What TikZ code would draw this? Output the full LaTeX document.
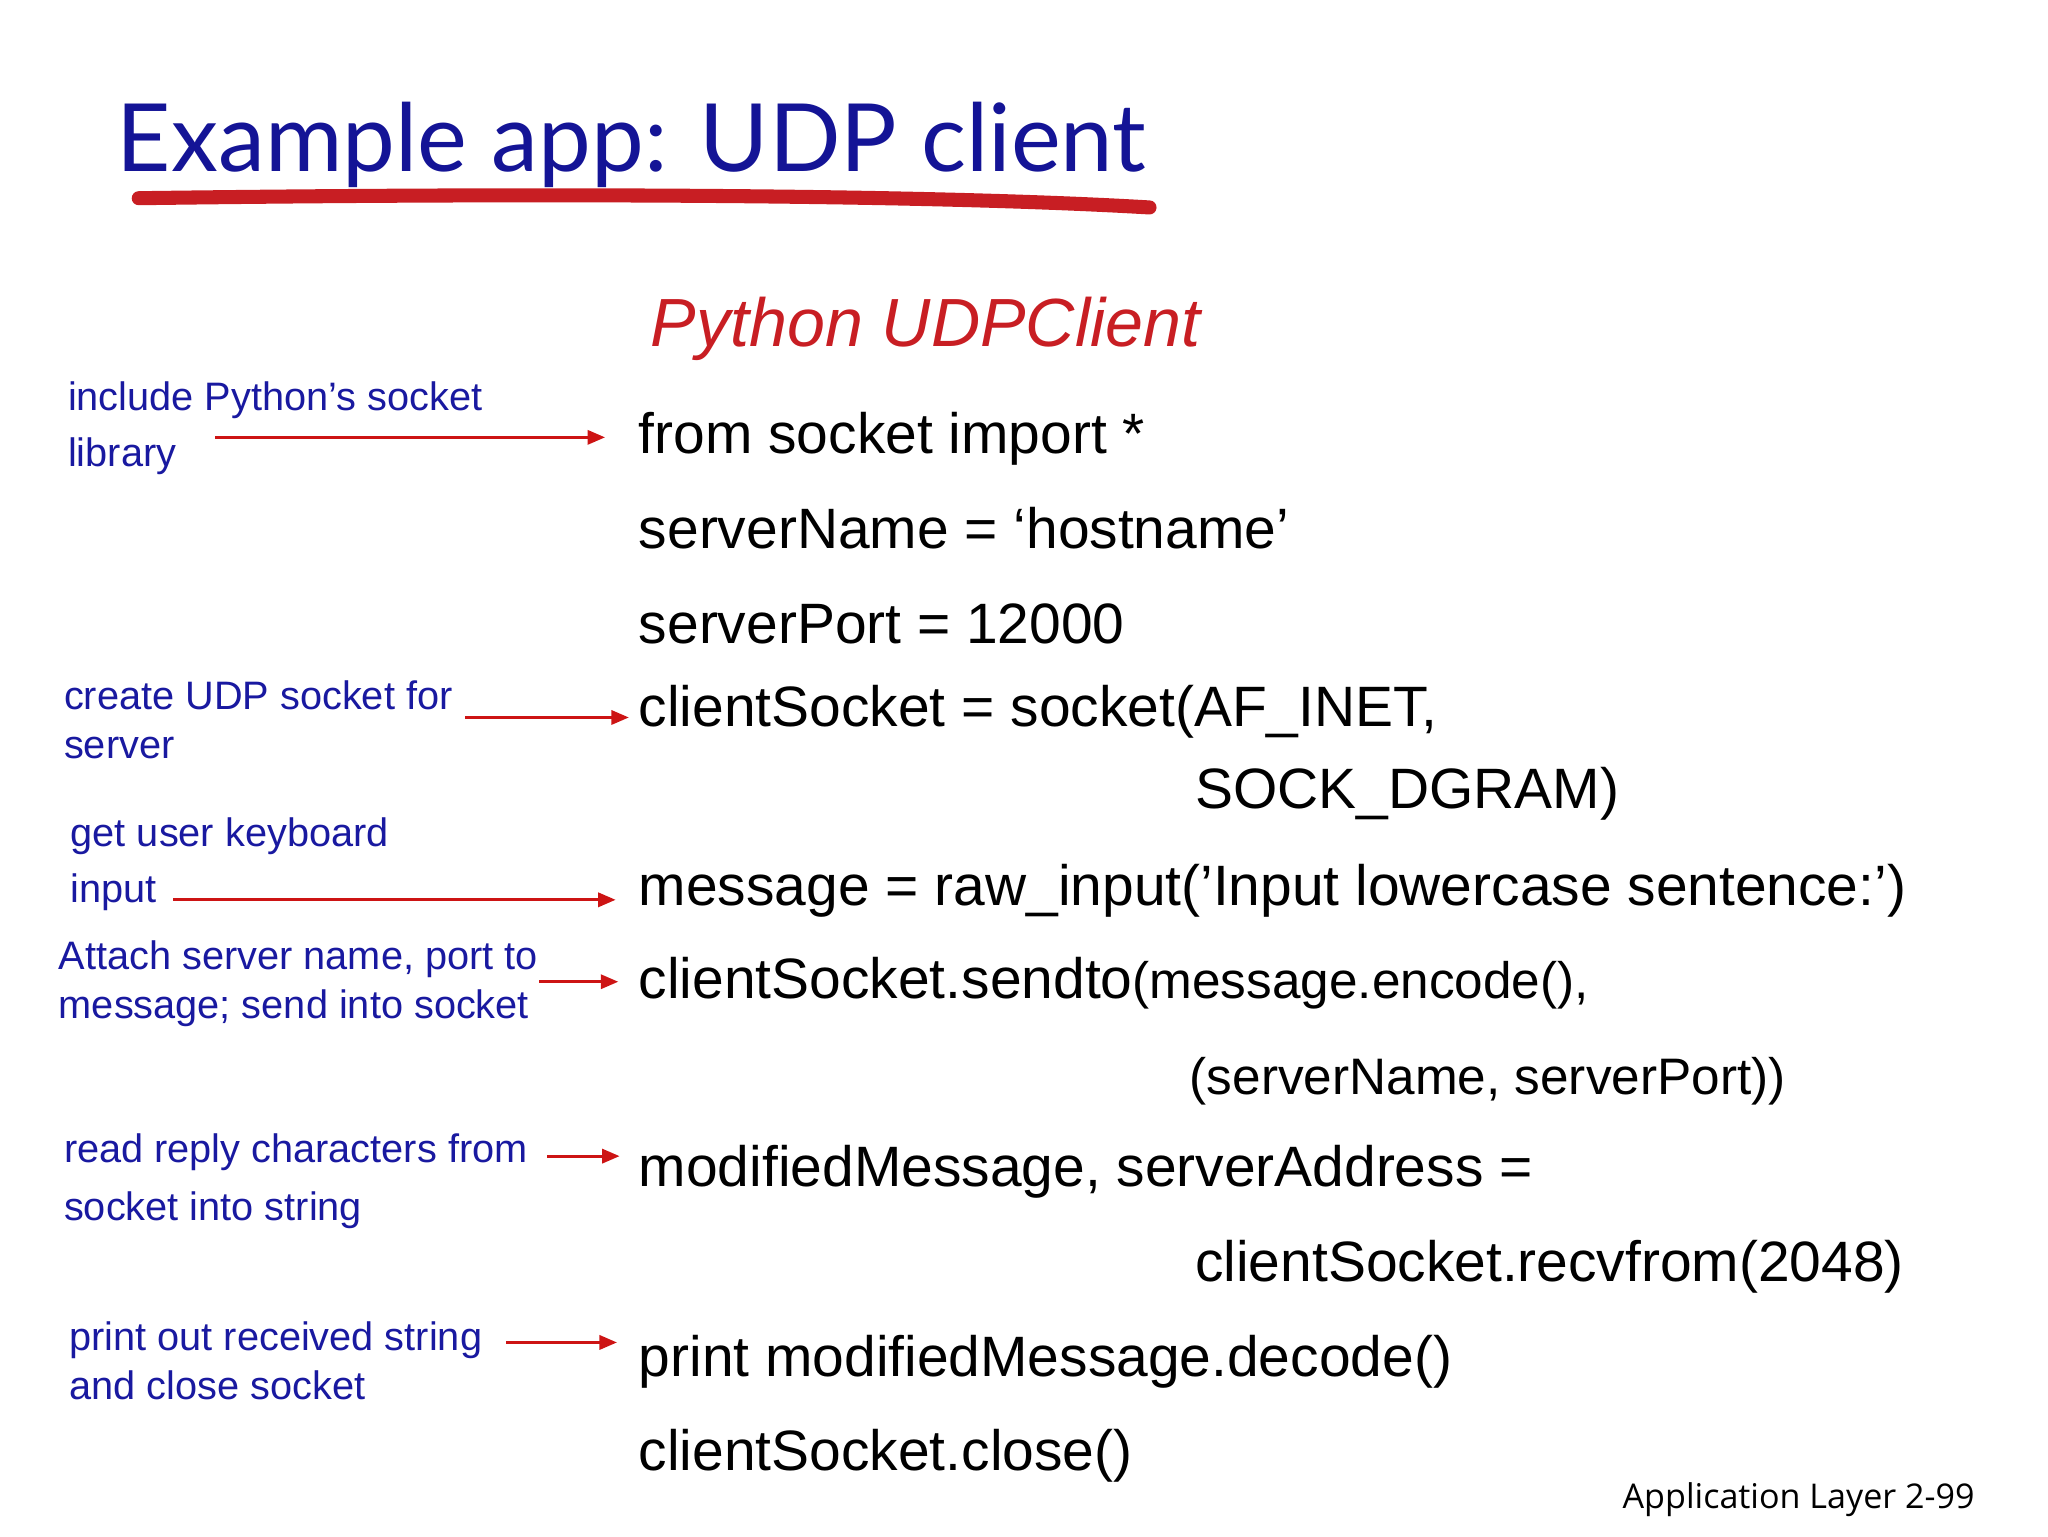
\documentclass[tikz,border=0pt]{standalone}
\usepackage{fontspec}
\setmainfont{Liberation Sans}
\newfontfamily\titlefont{Lato}
\newfontfamily\footfont{Open Sans}
\usetikzlibrary{arrows.meta}
\definecolor{navy}{RGB}{20,20,150}
\definecolor{ann}{RGB}{25,25,160}
\definecolor{ured}{RGB}{200,30,35}
\definecolor{ared}{RGB}{205,20,20}
\begin{document}
\begin{tikzpicture}[x=0.01321cm,y=-0.01321cm,
  code/.style={anchor=base west,inner sep=0,font=\fontsize{16.2}{18}\selectfont},
  note/.style={anchor=base west,inner sep=0,text=ann,font=\fontsize{11.3}{13}\selectfont},
  arr/.style={draw=ared,line width=0.9pt,-{Triangle[length=5pt,width=4pt]}}]
\useasboundingbox (0,0) rectangle (1550,1163);
\node[anchor=base west,inner sep=0,text=navy,font=\titlefont\fontsize{26.8}{30}\selectfont] (title) at (88,130) {Example app: UDP client};
\draw[ured,line width=4pt,line cap=round] (105,150) .. controls (400,146) and (700,147) .. (870,157);
\node[anchor=base west,inner sep=0,text=ured,font=\fontsize{19.4}{22}\selectfont\itshape] (sub) at (492,262) {Python UDPClient};
\node[code] (c1) at (483,343) {from socket import *};
\node[code] (c2) at (483,415) {serverName = ‘hostname’};
\node[code] (c3) at (483,487) {serverPort = 12000};
\node[code] (c4) at (483,550) {clientSocket = socket(AF\_INET,};
\node[code] (c4b) at (904,612) {SOCK\_DGRAM)};
\node[code] (c5) at (483,685) {message = raw\_input(’Input lowercase sentence:’)};
\node[code] (c6) at (483,756) {clientSocket.sendto{\fontsize{14.6}{16}\selectfont(message.encode(),}};
\node[code,font=\fontsize{14.6}{16}\selectfont] (c6b) at (900,828) {(serverName, serverPort))};
\node[code] (c7) at (483,898) {modifiedMessage, serverAddress =};
\node[code] (c7b) at (904,970) {clientSocket.recvfrom(2048)};
\node[code] (c8) at (483,1042) {print modifiedMessage.decode()};
\node[code] (c9) at (483,1113) {clientSocket.close()};
\node[note] (n1a) at (51,311) {include Python’s socket};
\node[note] (n1b) at (51,353) {library};
\node[note] (n2a) at (48,537) {create UDP socket for};
\node[note] (n2b) at (48,574) {server};
\node[note] (n3a) at (53,641) {get user keyboard};
\node[note] (n3b) at (53,683) {input};
\node[note] (n4a) at (44,734) {Attach server name, port to};
\node[note] (n4b) at (44,771) {message; send into socket};
\node[note] (n5a) at (48,880) {read reply characters from};
\node[note] (n5b) at (48,924) {socket into string};
\node[note] (n6a) at (52,1022) {print out received string};
\node[note] (n6b) at (52,1059) {and close socket};
\coordinate (a1s) at (163,331); \coordinate (a1e) at (458,331);
\coordinate (a2s) at (352,543); \coordinate (a2e) at (476,543);
\coordinate (a3s) at (131,681); \coordinate (a3e) at (466,681);
\coordinate (a4s) at (408,743); \coordinate (a4e) at (468,743);
\coordinate (a5s) at (414,875); \coordinate (a5e) at (469,875);
\coordinate (a6s) at (383,1016); \coordinate (a6e) at (467,1016);
\draw[arr] (a1s) -- (a1e);
\draw[arr] (a2s) -- (a2e);
\draw[arr] (a3s) -- (a3e);
\draw[arr] (a4s) -- (a4e);
\draw[arr] (a5s) -- (a5e);
\draw[arr] (a6s) -- (a6e);
\node[anchor=base east,inner sep=0,font=\footfont\fontsize{9.7}{11}\selectfont] (foot) at (1495,1142) {Application Layer 2-99};
\end{tikzpicture}
\end{document}
